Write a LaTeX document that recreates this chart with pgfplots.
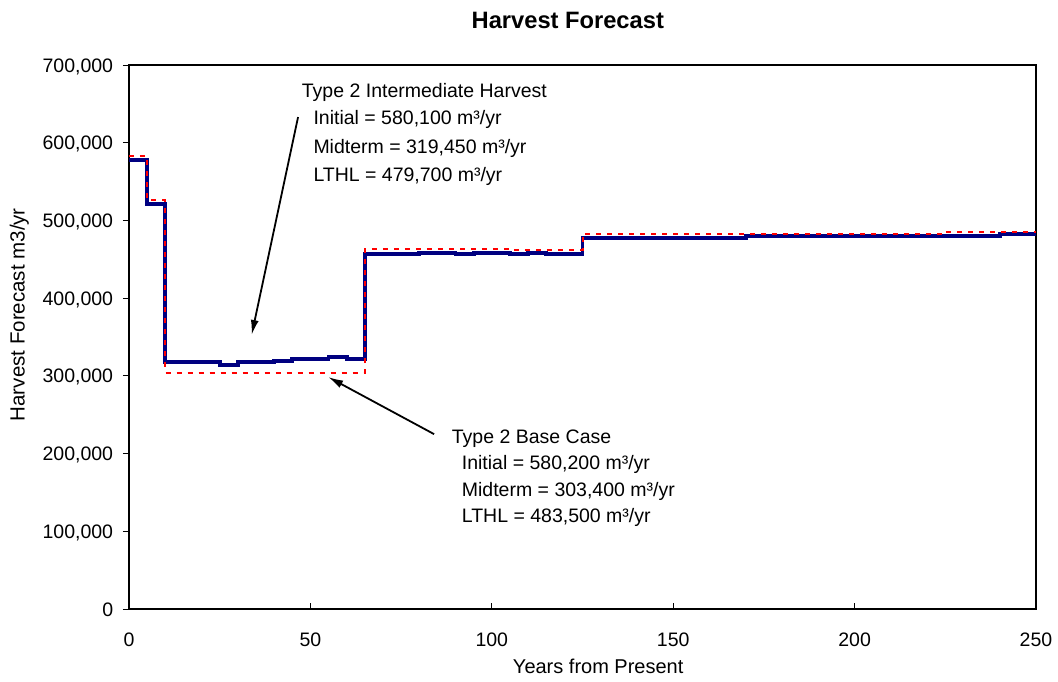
\documentclass[border=0pt]{standalone}
\usepackage{pgfplots}
\pgfplotsset{compat=1.18}
\usepackage{fontspec}
\setmainfont{Liberation Sans}
\usetikzlibrary{arrows.meta}
\definecolor{navyline}{RGB}{0,0,128}
\newcommand{\fs}[1]{\fontsize{#1}{#1}\selectfont}

\begin{document}
\begin{tikzpicture}[x=1pt,y=1pt]
\useasboundingbox (0,0) rectangle (1058,681);
\begin{axis}[
  at={(129pt,72pt)}, anchor=south west,
  scale only axis, width=907pt, height=544pt,
  xmin=0, xmax=250, ymin=0, ymax=700000,
  xtick={0,50,...,250}, ytick={0,100000,...,700000},
  scaled y ticks=false,
  tick pos=left,
  xtick align=inside, ytick align=outside,
  major tick length=6pt,
  tick style={black, line width=0.8pt},
  axis line style={black, line width=1.5pt},
  ticklabel style={font=\fs{19.5}, inner sep=0pt},
  /pgf/number format/.cd, fixed, 1000 sep={,}, assume math mode=true,
  /pgfplots/.cd,
  xticklabel style={anchor=base, yshift=-37.7pt},
  yticklabel style={anchor=base east, yshift=-7pt, xshift=-9.7pt},
  clip=false,
]
\addplot[const plot, navyline, line width=3.8pt, line join=miter] coordinates {
(0,578000) (5,521000) (10,317400) (25,314400) (30,317400) (40,319500)
(45,321700) (55,324500) (60,322000) (65,456400) (80,458500) (90,456400)
(95,458500) (105,456400) (110,458500) (115,456400) (125,477600)
(170,480400) (240,482600) (250,482600)
};
\addplot[const plot, red, line width=2pt, dash pattern=on 5pt off 6pt] coordinates {
(0,582500) (5,526000) (10,304000) (65,463300) (105,462000) (125,483000)
(225,485600) (250,485600)
};
\draw[-{Latex[length=15pt,width=8pt]}, line width=1.8pt] (axis cs:46.6,633000) -- (axis cs:33.8,352600);
\draw[-{Latex[length=15pt,width=8pt]}, line width=1.8pt] (axis cs:84.1,225000) -- (axis cs:54.9,298500);
\end{axis}
\node[anchor=base, font=\bfseries\fs{23.7}, inner sep=0pt] at (567.8,652.7) {Harvest Forecast};
\node[anchor=base, font=\fs{20}, inner sep=0pt] at (598.2,7.7) {Years from Present};
\node[rotate=90, anchor=base, font=\fs{20.5}, inner sep=0pt] at (24.5,366.3) {Harvest Forecast m3/yr};
\begin{scope}[every node/.style={anchor=base west, inner sep=0pt, font=\fs{19.5}}]
\node at (301.7,583.7) {Type 2 Intermediate Harvest};
\node at (313.3,556) {Initial = 580,100 m³/yr};
\node at (313.3,527) {Midterm = 319,450 m³/yr};
\node at (313.3,499.3) {LTHL = 479,700 m³/yr};
\node at (451.7,237.7) {Type 2 Base Case};
\node at (461.7,211.7) {Initial = 580,200 m³/yr};
\node at (461.7,185) {Midterm = 303,400 m³/yr};
\node at (461.7,158.3) {LTHL = 483,500 m³/yr};
\end{scope}
\end{tikzpicture}
\end{document}
